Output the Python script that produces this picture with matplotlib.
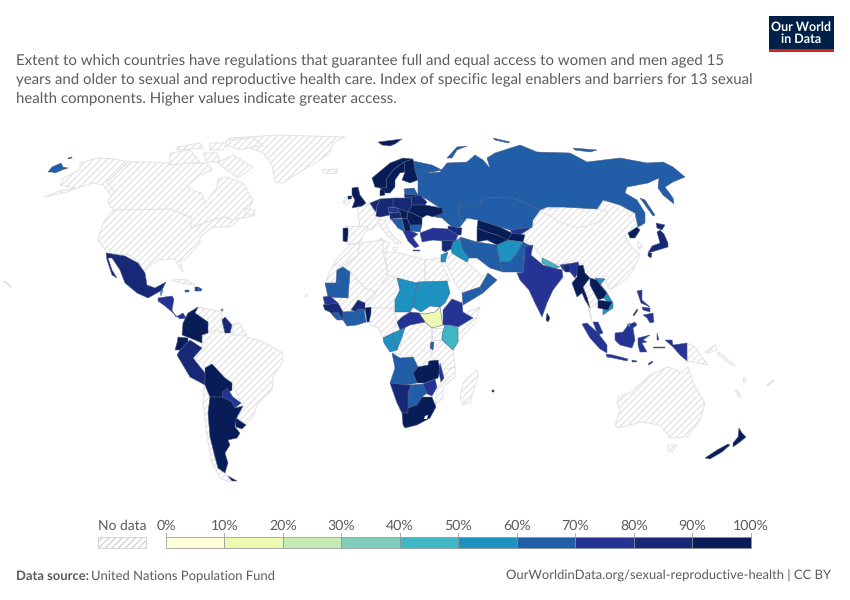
import matplotlib
matplotlib.use("Agg")
import matplotlib.pyplot as plt
from matplotlib.colors import BoundaryNorm, ListedColormap
from matplotlib.patches import Polygon, Rectangle

plt.rcParams['font.family'] = ['Lato', 'DejaVu Sans']
plt.rcParams['hatch.linewidth'] = 0.9
plt.rcParams['text.hinting'] = 'no_hinting'

# outlines, in reference pixels

# no data
alaska = [(44,197),(60,191),(75,188),(60,185),(63,178),(80,170),(80,163),(97,158),(115,159),(128,162),(107,182),(115,192),(114,202),(108,192),(103,185),(93,183),(77,188),(67,192)]
canada = [(128,162),(150,162),(168,163),(187,163),(207,163),(213,170),(200,175),(188,185),(190,190),(202,193),(205,203),(217,188),(218,179),(227,177),(243,183),(253,200),(248,212),(255,215),(248,217),(233,220),(225,217),(213,220),(190,228),(192,218),(170,209),(115,210),(110,207),(108,200),(115,192),(107,182)]
usa = [(115,210),(170,209),(192,218),(190,228),(213,220),(225,217),(232,220),(240,218),(230,227),(213,227),(200,237),(200,243),(185,260),(180,260),(183,272),(180,268),(175,259),(157,260),(143,272),(140,263),(128,255),(107,253),(98,240),(103,223),(110,213)]
greenland = [(230,138),(277,135),(345,137),(333,143),(330,153),(320,160),(300,172),(283,183),(275,182),(272,165),(263,153),(247,147),(227,142)]
ellesmere = [(227,140),(253,138),(263,145),(240,150),(225,145)]
baffin = [(217,163),(233,155),(253,167),(238,178),(227,170)]
victoria_isl = [(170,153),(190,150),(200,162),(170,165)]
banks_isl = [(177,147),(200,143),(203,148),(177,150)]
devon_isl = [(210,143),(227,143),(223,150),(210,150)]
somerset_isl = [(203,153),(217,153),(220,162),(207,162)]
newfoundland = [(243,208),(255,210),(254,216),(246,214)]
iceland = [(322,170),(338,169),(337,173),(325,174)]
cuba = [(172,280),(185,279),(195,285),(180,283)]
ireland = [(343,203),(345,197),(349,199),(350,202),(346,205)]
france = [(358,208),(370,203),(376,216),(380,217),(378,222),(372,230),(360,228),(358,215)]
italy = [(378,220),(392,220),(386,226),(395,238),(402,243),(397,244),(388,236),(380,226)]
sicily = [(392,248),(398,247),(396,251)]
sardinia = [(379,238),(382,238),(382,244),(379,244)]
spain = [(345,226),(368,227),(360,242),(348,245),(348,235),(348,228)]
morocco = [(350,245),(360,243),(358,255),(345,265),(337,270),(336,283),(325,283),(333,265),(340,255)]
algeria = [(360,243),(383,240),(383,252),(388,275),(376,292),(365,288),(350,272),(343,267),(345,265),(358,255)]
tunisia = [(383,240),(390,243),(385,252),(383,252)]
libya = [(385,252),(395,252),(420,258),(425,260),(425,285),(418,288),(397,278),(388,275)]
egypt = [(425,260),(440,258),(450,281),(418,282),(425,285)]
mali = [(350,272),(365,288),(376,292),(373,297),(365,303),(358,300),(351,310),(343,312),(338,303),(330,296),(348,298)]
niger = [(388,275),(397,278),(400,290),(395,300),(393,308),(370,308),(365,303),(373,297),(376,292)]
nigeria = [(370,308),(393,308),(398,322),(392,333),(383,338),(378,328),(370,325)]
togo = [(363,311),(367,311),(367,322),(364,322)]
dr_congo = [(402,333),(400,330),(410,325),(425,322),(432,328),(431,342),(430,348),(432,358),(437,362),(428,362),(418,367),(413,357),(393,353),(400,348)]
uganda = [(432,328),(442,328),(442,340),(432,340)]
tanzania = [(432,350),(442,340),(453,350),(455,367),(443,370),(437,362),(432,358)]
somalia = [(480,307),(475,323),(458,342),(458,328),(473,318),(467,312)]
eritrea = [(447,296),(452,299),(462,303),(452,300)]
mozambique = [(443,370),(455,367),(455,377),(443,387),(443,398),(435,405),(437,388),(441,382),(444,378)]
madagascar = [(477,370),(478,377),(470,402),(463,405),(460,398),(463,383)]
saudi_arabia = [(445,262),(452,253),(467,262),(478,272),(482,277),(488,273),(480,287),(462,293),(455,283)]
china = [(540,210),(547,207),(563,207),(597,209),(603,200),(620,205),(635,213),(643,225),(635,228),(625,235),(630,245),(640,255),(633,270),(625,280),(610,290),(605,279),(595,278),(587,279),(585,273),(583,265),(575,260),(560,265),(542,258),(533,245),(520,238),(533,225)]
mongolia = [(540,210),(563,207),(597,209),(608,212),(600,222),(578,228),(560,222)]
south_korea = [(638,241),(643,247),(638,249)]
thailand = [(583,287),(590,285),(598,300),(598,308),(594,305),(590,308),(592,322),(589,312),(587,297)]
png = [(687,343),(695,347),(702,357),(708,365),(697,363),(687,361)]
new_britain = [(705,352),(715,345),(717,350),(708,353)]
solomon_isl = [(718,352),(735,365),(733,366),(717,354)]
australia = [(618,397),(630,393),(650,375),(667,367),(677,370),(680,373),(688,367),(695,387),(705,403),(700,420),(687,437),(670,438),(660,425),(642,422),(618,428),(615,425),(620,410),(617,403)]
tasmania = [(668,445),(677,445),(672,452),(668,451)]
new_caledonia = [(735,390),(737,390),(741,397),(739,397)]
vanuatu = [(743,377),(745,377),(745,381),(743,381)]
fiji = [(767,385),(773,380),(774,381),(768,386)]
hawaii = [(3,281),(6,282),(11,286),(10,288),(7,284)]
cape_verde = [(305,294),(307,294),(307,296),(305,296)]
brazil = [(202,335),(208,333),(215,330),(225,333),(230,333),(238,323),(247,337),(263,342),(283,353),(282,363),(273,377),(272,390),(258,403),(253,417),(245,425),(237,418),(243,406),(241,403),(232,383),(225,378),(212,364),(205,368),(202,363),(193,358),(202,348),(202,343)]
venezuela = [(195,313),(198,307),(222,312),(222,323),(225,333),(215,330),(208,333),(208,322)]
guianas = [(232,325),(238,322),(247,335),(232,335)]
chile = [(205,385),(210,397),(208,413),(210,437),(215,457),(218,468),(227,475),(230,482),(220,478),(212,463),(207,437),(203,403),(204,387)]

# with data
russia = [(413,161),(432,165),(442,170),(433,172),(427,172),(423,170),(430,173),(440,172),(447,163),(467,162),(475,155),(483,160),(490,168),(487,158),(495,153),(520,145),(537,152),(570,153),(587,162),(620,158),(647,163),(663,162),(673,167),(685,177),(673,182),(665,187),(673,198),(674,204),(663,195),(658,188),(659,178),(648,183),(627,187),(625,193),(637,200),(645,213),(645,223),(638,227),(635,213),(620,205),(603,200),(597,209),(563,207),(547,207),(540,210),(523,202),(510,197),(483,198),(480,205),(460,205),(458,215),(463,223),(460,227),(452,227),(442,218),(435,217),(440,208),(428,200),(418,195),(418,180),(415,170)]
chukotka = [(48,172),(52,167),(61,163),(63,167),(68,168),(62,170),(55,173),(52,172)]
st_lawrence = [(68,158),(72,157),(72,158),(68,159)]
novaya_zemlya = [(447,158),(457,147),(467,146),(457,150),(452,158)]
russia_isl_a = [(493,138),(510,142),(508,143),(495,140)]
russia_isl_b = [(573,148),(597,150),(590,152),(575,150)]
sakhalin = [(640,198),(645,200),(655,215),(653,216)]
kazakhstan = [(460,205),(480,205),(483,198),(510,197),(523,202),(540,210),(533,220),(532,227),(510,230),(500,227),(478,220),(467,218),(463,223),(458,215)]
mexico = [(106,253),(125,256),(138,263),(145,273),(147,285),(155,288),(166,282),(162,290),(157,293),(148,298),(137,293),(125,283),(120,270),(112,258),(108,258),(112,270),(117,278),(112,275),(107,260)]
belize = [(160,291),(163,290),(161,296)]
central_america = [(158,298),(172,296),(174,299),(172,310),(176,317),(183,313),(186,318),(180,319),(172,312),(165,306),(158,301)]
jamaica = [(185,290),(189,290),(189,292),(185,292)]
haiti = [(195,287),(198,287),(198,291),(195,291)]
dominican_rep = [(198,287),(202,289),(201,291),(198,291)]
trinidad = [(221,309),(223,309),(223,311),(221,311)]
colombia = [(183,323),(188,313),(198,307),(195,313),(208,322),(208,333),(202,335),(202,343),(190,338),(182,335)]
guyana = [(222,320),(225,317),(232,325),(230,333),(225,333)]
ecuador = [(178,337),(188,338),(188,342),(180,350),(175,350),(177,343)]
peru = [(180,350),(190,340),(202,348),(193,358),(205,373),(205,385),(190,377),(177,355)]
bolivia = [(205,368),(212,364),(225,378),(232,383),(232,390),(222,397),(210,397),(205,385)]
paraguay = [(222,393),(227,388),(233,397),(241,403),(235,408),(232,402),(223,398)]
argentina = [(210,397),(222,397),(232,402),(235,408),(243,406),(237,417),(235,427),(240,433),(237,438),(228,440),(230,445),(225,453),(228,463),(225,473),(218,468),(215,457),(210,437),(208,413)]
uruguay = [(236,418),(246,425),(242,429),(236,427)]
tierra_del_fuego = [(228,476),(237,481),(232,481)]
svalbard = [(378,142),(402,139),(395,144),(390,146),(382,145)]
norway = [(372,178),(390,163),(403,158),(413,159),(404,162),(393,170),(386,180),(387,188),(380,188),(375,187)]
sweden = [(386,180),(393,170),(404,162),(405,172),(400,173),(395,180),(395,187),(390,193),(383,193),(380,188),(387,188)]
finland = [(404,162),(413,159),(415,170),(418,180),(410,183),(402,180),(405,172)]
estonia = [(404,189),(414,188),(418,195),(405,194)]
latvia_lith = [(404,194),(418,195),(420,198),(411,197),(405,198)]
belarus = [(411,197),(420,195),(427,202),(425,205),(412,205)]
poland = [(393,198),(405,198),(411,197),(412,205),(408,212),(397,208),(393,207)]
germany = [(380,199),(393,198),(393,207),(388,207),(389,212),(390,215),(380,217),(376,216),(377,206)]
denmark = [(380,190),(384,190),(385,195),(380,196)]
benelux = [(370,203),(380,199),(377,206),(376,212),(373,208)]
uk = [(352,188),(358,187),(360,195),(366,203),(362,206),(352,208),(355,200),(352,195)]
n_ireland = [(348,196),(352,196),(351,199),(348,199)]
czechia = [(388,207),(397,208),(400,212),(393,213),(389,212)]
austria = [(389,213),(393,213),(400,212),(402,218),(390,219),(390,215)]
hungary = [(397,208),(408,212),(407,218),(402,219),(400,212)]
ukraine = [(412,205),(425,205),(442,208),(443,213),(433,217),(427,215),(422,218),(412,213),(408,212)]
romania = [(412,213),(422,218),(422,225),(410,225),(407,218),(408,212)]
serbia = [(402,219),(407,218),(410,225),(411,231),(405,232)]
croatia_bosnia = [(391,219),(402,219),(405,232),(398,228)]
bulgaria = [(410,225),(422,225),(420,232),(411,231)]
greece = [(403,231),(411,231),(418,234),(413,238),(419,246),(415,248),(408,241)]
crete = [(413,250),(420,250),(420,251),(413,251)]
portugal = [(343,228),(348,228),(348,235),(347,242),(343,241)]
turkey = [(420,233),(433,228),(448,229),(458,235),(456,240),(442,241),(433,240),(422,242)]
caucasus = [(448,226),(462,228),(461,235),(458,235),(448,229)]
syria = [(442,241),(456,240),(453,248),(445,252),(442,250)]
iraq = [(453,242),(460,238),(462,248),(469,258),(467,262),(460,258),(452,253),(451,249)]
jordan = [(441,255),(448,252),(445,262),(441,262)]
oman = [(488,273),(497,280),(483,293),(480,287)]
yemen = [(462,293),(480,287),(483,293),(463,305)]
iran = [(460,237),(477,242),(497,245),(500,262),(503,272),(490,268),(477,258),(469,258),(462,248)]
uzbekistan = [(478,220),(500,227),(512,233),(508,242),(497,235),(487,232),(477,228)]
turkmenistan = [(477,228),(487,232),(497,235),(508,240),(497,245),(487,240),(477,242)]
kyrgyzstan = [(510,230),(532,227),(520,235),(512,233)]
tajikistan = [(512,233),(525,235),(523,242),(508,240)]
afghanistan = [(497,245),(508,240),(523,242),(517,253),(510,262),(500,262)]
pakistan = [(500,262),(510,262),(517,253),(523,242),(533,247),(525,255),(523,273),(516,272),(507,272),(503,272)]
india = [(525,247),(533,245),(531,255),(543,265),(562,270),(563,277),(553,290),(547,303),(542,317),(535,303),(529,290),(520,280),(517,273),(523,273),(525,255)]
ne_india = [(560,265),(573,263),(578,262),(580,268),(575,278),(570,272),(563,270)]
nepal = [(542,258),(550,262),(560,267),(553,268),(542,263)]
bangladesh = [(563,265),(570,265),(570,272),(565,272)]
sri_lanka = [(547,313),(550,318),(548,322),(546,320)]
myanmar = [(577,266),(583,265),(585,273),(590,278),(583,287),(587,297),(590,308),(585,300),(582,293),(577,297),(572,283),(577,277)]
laos = [(590,278),(597,280),(607,293),(604,298),(598,300),(590,285)]
vietnam = [(595,278),(605,279),(600,285),(607,293),(613,303),(613,308),(607,312),(603,315),(603,309),(608,303),(604,298),(607,293)]
cambodia = [(598,300),(612,302),(608,310),(598,308)]
malaysia_pen = [(593,322),(598,322),(603,333),(598,335)]
north_korea = [(628,233),(637,227),(640,230),(635,238),(630,238)]
hokkaido = [(656,223),(665,225),(662,230),(657,228)]
honshu = [(660,230),(664,234),(668,243),(668,247),(655,251),(648,253),(652,246),(660,243),(657,232)]
kyushu = [(648,253),(652,253),(651,258),(648,256)]
luzon = [(637,291),(642,290),(642,300),(650,307),(641,303)]
visayas = [(642,307),(650,308),(650,312),(643,310)]
mindanao = [(643,315),(653,313),(654,322),(650,323),(647,318)]
palawan = [(633,315),(637,309),(638,310),(634,316)]
sumatra = [(582,324),(587,323),(598,333),(607,345),(607,353),(600,349),(590,338)]
java = [(606,354),(613,355),(628,359),(627,361),(613,358),(607,357)]
lesser_sunda_a = [(632,360),(637,361),(636,362),(632,362)]
timor = [(648,364),(652,361),(653,362),(649,365)]
borneo = [(615,333),(623,332),(628,325),(635,322),(637,325),(633,328),(635,340),(632,348),(620,345),(615,340)]
brunei = [(627,325),(630,323),(630,327)]
sulawesi = [(638,338),(650,335),(643,340),(647,342),(642,343),(647,352),(640,352),(638,345)]
halmahera = [(657,333),(659,340),(657,340)]
seram = [(653,347),(665,347),(665,348),(654,348)]
west_papua = [(665,340),(672,340),(673,345),(687,343),(687,361),(680,355),(673,347)]
north_island = [(739,428),(742,433),(746,437),(740,442),(733,447),(733,443),(738,437)]
south_island = [(730,445),(722,452),(710,459),(705,458),(717,450),(728,444)]
mauritania = [(350,272),(348,298),(328,297),(325,283),(336,283),(337,270),(343,267)]
senegal = [(323,297),(330,296),(338,303),(325,305)]
guinea = [(323,305),(338,303),(343,312),(343,320),(335,318),(330,312),(325,310)]
liberia = [(332,313),(338,312),(343,320),(337,320)]
burkina = [(351,310),(358,300),(365,303),(365,310),(357,312)]
benin = [(365,308),(371,307),(371,313),(369,322),(367,322)]
ghana = [(357,309),(364,309),(366,322),(357,325)]
ivory_coast = [(343,312),(357,311),(357,325),(347,326),(343,320)]
chad = [(397,278),(417,283),(415,300),(413,307),(410,312),(395,312),(395,300),(400,290)]
sudan = [(418,282),(447,281),(450,293),(445,303),(440,307),(430,306),(421,312),(413,307),(415,300),(417,283)]
south_sudan = [(419,313),(425,314),(435,312),(440,307),(442,320),(443,325),(432,328),(425,322)]
car = [(397,322),(402,317),(410,312),(419,313),(425,322),(410,325),(400,330)]
ethiopia = [(443,310),(452,299),(462,303),(463,312),(473,318),(458,327),(450,325),(443,325)]
kenya = [(442,335),(445,325),(450,325),(458,328),(458,342),(453,350),(442,340)]
rwanda_burundi = [(431,342),(434,342),(433,350),(430,348)]
gabon = [(383,338),(393,333),(395,345),(397,350),(390,352),(384,343)]
congo = [(393,333),(405,328),(402,337),(397,350),(395,345)]
angola = [(392,353),(400,358),(413,357),(418,367),(413,373),(417,383),(407,385),(390,383),(395,368)]
zambia = [(413,373),(418,367),(428,365),(429,361),(438,360),(440,370),(438,378),(425,383),(417,383)]
malawi = [(440,363),(444,378),(441,382),(439,373)]
zimbabwe = [(423,384),(435,379),(437,387),(432,396),(425,393)]
botswana = [(411,385),(423,384),(427,393),(422,397),(417,405),(408,408),(408,393)]
namibia = [(390,383),(407,385),(411,385),(408,393),(408,413),(402,413),(397,403)]
south_africa = [(402,413),(408,413),(408,408),(417,405),(422,397),(432,397),(436,407),(430,418),(417,425),(405,428),(403,425)]
lesotho = [(425,416),(428,415),(427,419),(424,419)]
mauritius = [(492,390),(494,390),(494,392),(492,392)]

no_data_shapes = [alaska, canada, usa, greenland, ellesmere, baffin, victoria_isl, banks_isl,
                  devon_isl, somerset_isl, newfoundland, iceland, cuba, ireland, france, italy,
                  sicily, sardinia, spain, morocco, algeria, tunisia, libya, egypt, mali, niger,
                  nigeria, togo, dr_congo, uganda, tanzania, somalia, eritrea, mozambique,
                  madagascar, saudi_arabia, china, mongolia, south_korea, thailand, png,
                  new_britain, solomon_isl, australia, tasmania, new_caledonia, vanuatu, fiji,
                  hawaii, cape_verde, brazil, venezuela, guianas, chile]

data_shapes = [russia, chukotka, st_lawrence, novaya_zemlya, russia_isl_a, russia_isl_b, sakhalin,
               kazakhstan, mexico, belize, central_america, jamaica, haiti, dominican_rep, trinidad,
               colombia, guyana, ecuador, peru, bolivia, paraguay, argentina, uruguay,
               tierra_del_fuego, svalbard, norway, sweden, finland, estonia, latvia_lith, belarus,
               poland, germany, denmark, benelux, uk, n_ireland, czechia, austria, hungary, ukraine,
               romania, serbia, croatia_bosnia, bulgaria, greece, crete, portugal, turkey, caucasus,
               syria, iraq, jordan, oman, yemen, iran, uzbekistan, turkmenistan, kyrgyzstan,
               tajikistan, afghanistan, pakistan, india, ne_india, nepal, bangladesh, sri_lanka,
               myanmar, laos, vietnam, cambodia, malaysia_pen, north_korea, hokkaido, honshu, kyushu,
               luzon, visayas, mindanao, palawan, sumatra, java, lesser_sunda_a, timor, borneo,
               brunei, sulawesi, halmahera, seram, west_papua, north_island, south_island,
               mauritania, senegal, guinea, liberia, burkina, benin, ghana, ivory_coast, chad, sudan,
               south_sudan, car, ethiopia, kenya, rwanda_burundi, gabon, congo, angola, zambia,
               malawi, zimbabwe, botswana, namibia, south_africa, mauritius]

data_values = [65, 65, 65, 65, 65, 65, 65,
               65, 85, 45, 75, 65, 75, 65, 35,
               95, 85, 95, 85, 95, 75, 95, 95,
               95, 95, 95, 95, 95, 65, 85, 85,
               85, 85, 95, 85, 95, 95, 75, 85, 95, 95,
               95, 95, 65, 65, 75, 75, 95, 75, 85,
               85, 55, 55, 65, 65, 65, 95, 95, 75,
               95, 55, 65, 75, 75, 45, 85, 95,
               95, 95, 55, 95, 75, 95, 85, 85, 85,
               75, 75, 75, 75, 75, 75, 75, 75, 75,
               45, 75, 75, 75, 75, 95, 95,
               65, 75, 85, 65, 85, 95, 65, 65, 55, 55,
               15, 75, 75, 45, 65, 55, 55, 65, 95,
               75, 75, 65, 85, 95, 85]

bin_edges = [0, 10, 20, 30, 40, 50, 60, 70, 80, 90, 100]
bin_colors = ['#ffffd9', '#edf8b1', '#c7e9b4', '#7fcdbb', '#41b6c4',
              '#1d91c0', '#225ea8', '#253494', '#172976', '#081d58']
tick_labels = ['0%', '10%', '20%', '30%', '40%', '50%', '60%', '70%', '80%', '90%', '100%']

subtitle_lines = [
    "Extent to which countries have regulations that guarantee full and equal access to women and men aged 15",
    "years and older to sexual and reproductive health care. Index of specific legal enablers and barriers for 13 sexual",
    "health components. Higher values indicate greater access.",
]

cmap = ListedColormap(bin_colors)
norm = BoundaryNorm(bin_edges, cmap.N)

fig = plt.figure(figsize=(8.5, 6), dpi=100)
ax = fig.add_axes([0, 0, 1, 1])
ax.set_xlim(0, 850)
ax.set_ylim(600, 0)
ax.axis('off')

# map
for shape in no_data_shapes:
    ax.add_patch(Polygon(shape, closed=True, facecolor='white', edgecolor='#e2e2e2',
                         hatch='/////', linewidth=0.7))
for shape, val in zip(data_shapes, data_values):
    ax.add_patch(Polygon(shape, closed=True, facecolor=cmap(norm(val)), edgecolor='#4f5f86',
                         linewidth=0.35))
ax.add_patch(Polygon(lesotho, closed=True, facecolor='white', edgecolor='none'))

# subtitle
for i, line in enumerate(subtitle_lines):
    ax.text(16, 60 + i * 19, line, fontsize=10.8, color='#5b5b5b', va='center', ha='left')

# logo
ax.add_patch(Rectangle((769, 16), 65, 36, facecolor='#002147', edgecolor='none'))
ax.add_patch(Rectangle((769, 49), 65, 3, facecolor='#ce261e', edgecolor='none'))
ax.text(801.5, 27, "Our World", color='white', fontsize=9, fontweight='bold', ha='center', va='center')
ax.text(801.5, 39.5, "in Data", color='white', fontsize=9, fontweight='bold', ha='center', va='center')

# legend
bar_left, bar_right = 166, 751
bar_top, bar_h = 537, 11
step = (bar_right - bar_left) / (len(bin_edges) - 1)
for i, color in enumerate(bin_colors):
    ax.add_patch(Rectangle((bar_left + i * step, bar_top), step, bar_h, facecolor=color,
                           edgecolor='#8a8f98', linewidth=0.5))
for i, label in enumerate(tick_labels):
    x = bar_left + i * step
    ax.plot([x, x], [bar_top - 4, bar_top], color='#a0a0a0', linewidth=0.6)
    ax.text(x, 525.5, label, fontsize=10.2, color='#5b5b5b', ha='center', va='center')
ax.add_patch(Rectangle((98, bar_top), 48, bar_h, facecolor='white', edgecolor='#d0d0d0',
                       hatch='/////', linewidth=0.6))
ax.text(122.5, 525.5, "No data", fontsize=10, color='#5b5b5b', ha='center', va='center')

# footer
ax.text(16, 576, "Data source:", fontsize=9.4, color='#5b5b5b', fontweight='bold', va='center', ha='left')
ax.text(91, 576, "United Nations Population Fund", fontsize=9.4, color='#5b5b5b', va='center', ha='left')
ax.text(831, 576, "OurWorldinData.org/sexual-reproductive-health | CC BY", fontsize=9.4,
        color='#5b5b5b', va='center', ha='right')

plt.savefig("out.png", dpi=100)
plt.close()
